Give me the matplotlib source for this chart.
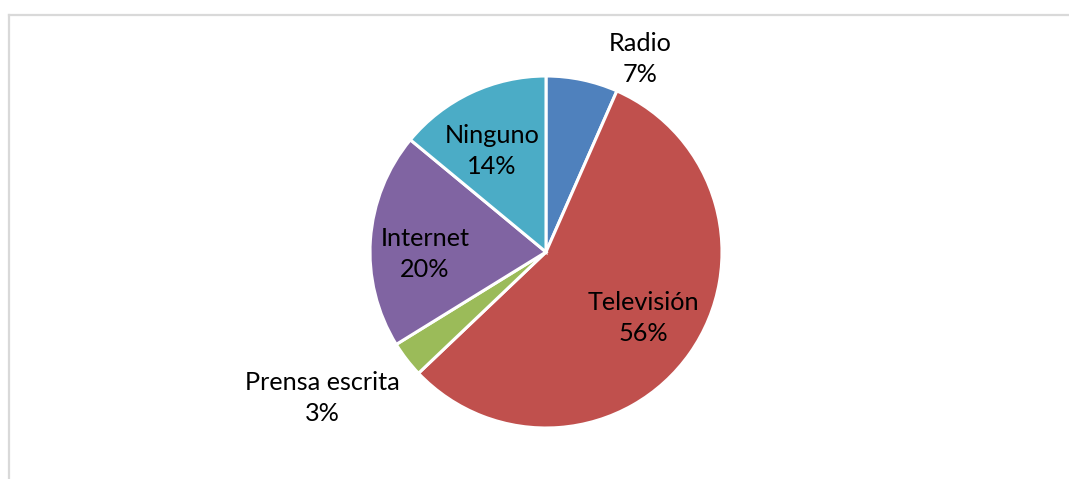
import numpy as np
import matplotlib.pyplot as plt
from matplotlib.lines import Line2D

# ----------------------------
# Data
# ----------------------------
CATEGORIES = ["Radio", "Televisión", "Prensa escrita", "Internet", "Ninguno"]
SHARES = [6.6, 56.3, 3.3, 19.8, 14.0]
COLORS = ["#4F81BD", "#C0504D", "#9BBB59", "#8064A2", "#4BACC6"]

# label placement: radius factor and angle shift (deg) from wedge middle
LABEL_R = [1.22, 0.667, 1.52, 0.688, 0.65]
LABEL_DTH = [-14, 0.9, -4.5, 5, 3]

W, H = 1069, 479
CX, CY, R = 546, H - 252, 176

plt.rcParams.update({
    "font.family": ["Lato", "DejaVu Sans"],
    "font.size": 18.2,
})

fig = plt.figure(figsize=(W / 100, H / 100), dpi=100)
ax = fig.add_axes([0, 0, 1, 1])

wedges, _ = ax.pie(SHARES, colors=COLORS, startangle=90, counterclock=False,
                   center=(CX, CY), radius=R, frame=True,
                   wedgeprops=dict(edgecolor="white", linewidth=2.2))
ax.set_xlim(0, W)
ax.set_ylim(0, H)
ax.set_aspect("equal")
ax.axis("off")

total = sum(SHARES)
for w, name, val, rf, dth in zip(wedges, CATEGORIES, SHARES, LABEL_R, LABEL_DTH):
    mid = np.deg2rad((w.theta1 + w.theta2) / 2 + dth)
    x = CX + rf * R * np.cos(mid)
    y = CY + rf * R * np.sin(mid)
    ax.text(x, y, f"{name}\n{val / total * 100:.0f}%", ha="center", va="center",
            color="black", linespacing=1.42)

# chart frame (only top and left edges visible in the crop)
fig.add_artist(Line2D([9 / W, 1], [1 - 15 / H, 1 - 15 / H], color="#d9d9d9", lw=1.6,
                      transform=fig.transFigure))
fig.add_artist(Line2D([9 / W, 9 / W], [0, 1 - 15 / H], color="#d9d9d9", lw=1.6,
                      transform=fig.transFigure))

fig.savefig("out.png", dpi=100, facecolor="white")
